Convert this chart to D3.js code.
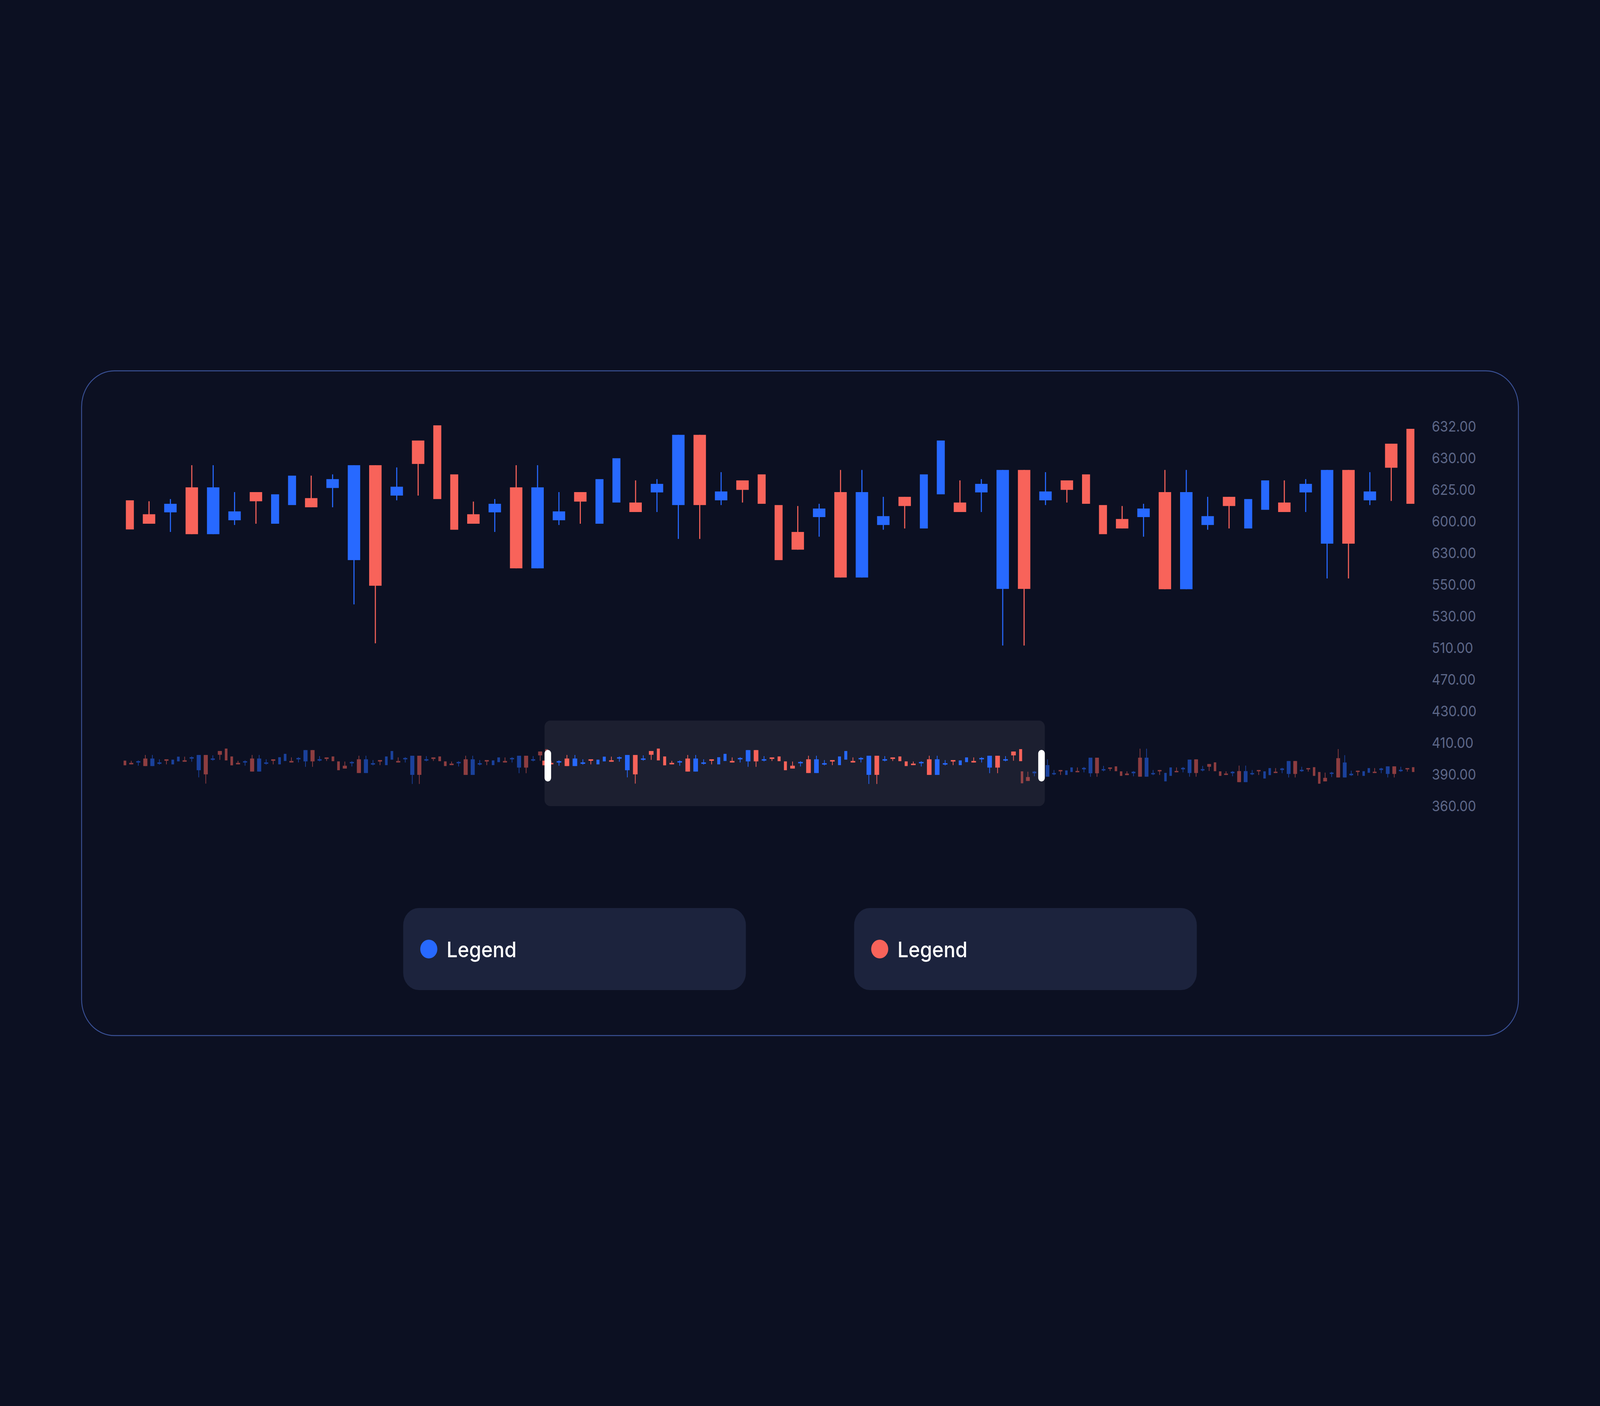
<!DOCTYPE html>
<html>
<head>
<meta charset="utf-8">
<script src="https://cdn.jsdelivr.net/npm/d3@7"></script>
<style>
html, body { margin: 0; padding: 0; background: #0C1022; overflow: hidden; width: 100%; height: 100%; }
svg { display: block; width: 100vw; height: 100vh; }
</style>
</head>
<body>
<svg id="chart" viewBox="0 0 4500 3600" preserveAspectRatio="none"></svg>
<script>
// ---------- DATA ----------
// y-axis labels, top to bottom (as printed on the chart)
const yTickLabels = ["632.00","630.00","625.00","600.00","630.00","550.00","530.00","510.00","470.00","430.00","410.00","390.00","360.00"];

// main candle series (values in axis-grid units, 0 = bottom label, 12 = top label)
const openVals  = [9.66,9.22,9.28,10.07,8.59,9.03,9.92,8.92,9.51,9.73,10.05,7.77,10.77,9.81,11.55,12.03,10.48,9.22,9.28,10.07,7.51,9.03,9.92,8.92,9.59,9.59,9.91,9.51,11.73,9.66,10.29,10.48,9.51,8.66,9.13,9.92,7.22,8.88,9.77,8.77,9.85,9.59,9.91,6.86,10.62,9.66,10.29,10.48,9.51,9.07,9.13,9.92,6.85,8.88,9.77,8.77,9.36,9.59,9.91,8.29,10.62,9.66,11.45,11.92];
const highVals  = [9.66,9.63,9.70,10.77,10.77,9.92,9.92,9.85,10.44,10.44,10.48,10.77,10.77,10.70,11.55,12.03,10.48,9.62,9.70,10.77,10.77,9.92,9.92,10.33,10.99,10.29,10.33,11.73,11.73,10.55,10.29,10.48,9.51,9.48,9.55,10.62,10.62,9.77,9.77,10.48,11.55,10.29,10.33,10.62,10.62,10.55,10.29,10.48,9.51,9.48,9.55,10.62,10.62,9.77,9.77,9.70,10.29,10.29,10.33,10.62,10.62,10.55,11.45,11.92];
const lowVals   = [8.74,8.92,8.66,8.59,8.59,8.88,8.92,8.92,9.51,9.44,9.44,6.37,5.14,9.66,9.81,9.70,8.73,8.92,8.66,7.51,7.51,8.88,8.92,8.92,9.59,9.29,9.29,8.44,8.44,9.51,9.59,9.55,7.77,8.10,8.51,7.22,7.22,8.73,8.77,8.77,9.85,9.29,9.29,5.07,5.07,9.51,9.59,9.55,8.59,8.77,8.51,6.85,6.85,8.73,8.77,8.77,9.36,9.29,9.29,7.19,7.19,9.51,9.64,9.55];
const closeVals = [8.74,8.92,9.55,8.59,10.07,9.31,9.63,9.85,10.44,9.44,10.33,10.77,6.96,10.09,10.81,9.70,8.73,8.92,9.55,7.51,10.07,9.31,9.62,10.33,10.99,9.29,10.18,11.73,9.51,9.94,9.99,9.55,7.77,8.10,9.40,7.22,9.92,9.16,9.48,10.48,11.55,9.29,10.18,10.62,6.86,9.94,9.99,9.55,8.59,8.77,9.40,6.85,9.92,9.16,9.48,9.70,10.29,9.29,10.18,10.62,8.29,9.94,10.69,9.55];

// navigator: right-hand (out of range) segment series, same grid units
const navRightOpen  = [7.55,6.43,7.17,8.78,6.50,6.96,7.81,6.84,7.42,7.63,7.94,7.17,10.24,7.73,8.32,8.53,7.55,7.12,7.17,10.24,6.50,6.96,7.81,5.58,6.66,7.63,7.94,7.22,9.91,7.73,8.99,9.32,7.55,7.12,7.17,7.60,5.43,6.96,7.81,6.14,6.81,7.48,7.81,7.04,9.58,7.58,8.19,8.37,7.42,6.27,7.04,10.14,6.35,6.78,7.68,6.66,7.27,7.48,7.81,7.04,8.53,7.58,8.19,8.37];
const navRightHigh  = [7.55,7.48,7.60,9.91,9.91,7.81,7.81,7.73,8.32,8.32,8.40,10.24,10.24,8.63,8.32,8.53,7.55,7.55,7.60,12.01,12.01,7.81,7.81,7.25,8.32,8.32,8.40,9.86,9.91,8.63,8.99,9.32,7.55,7.55,7.60,8.68,8.68,7.81,7.81,7.55,8.19,8.19,8.24,9.58,9.58,8.45,8.19,8.37,7.42,7.30,7.45,11.93,10.73,7.68,7.68,7.58,8.19,8.19,8.24,8.53,8.53,8.45,8.19,8.37];
const navRightLow   = [5.20,5.66,6.58,6.50,6.50,6.81,6.84,6.84,7.42,7.37,7.35,6.48,6.48,7.55,7.63,7.58,6.66,6.81,6.58,6.50,6.50,6.81,6.84,5.58,6.66,7.37,7.35,6.50,6.50,7.55,7.63,7.58,6.66,6.84,6.58,5.43,5.43,6.81,6.84,6.14,6.81,7.22,7.19,6.35,6.35,7.45,7.50,6.66,5.12,5.58,6.43,6.35,6.35,6.66,6.71,6.66,7.27,7.22,7.19,6.35,6.35,7.45,7.50,7.42];
const navRightClose = [5.20,5.66,7.50,6.50,8.78,7.22,7.55,7.73,8.32,7.37,8.24,10.24,7.17,7.99,8.04,7.58,6.66,6.81,7.48,6.50,10.24,7.22,7.55,7.25,8.32,7.37,8.24,9.86,7.22,7.99,8.45,7.58,6.66,6.84,7.48,5.43,7.60,7.22,7.55,7.55,8.19,7.22,8.12,9.58,7.04,7.86,7.94,6.66,5.12,5.58,7.30,6.35,9.29,7.09,7.42,7.58,8.19,7.22,8.12,8.53,7.04,7.86,7.94,7.42];

const legendLabels = ["Legend", "Legend"];
const legendKeys = ["up", "down"];

// ---------- STYLE ----------
const COLORS = { up: "#2769FF", down: "#F8635A" };
const BG = "#0C1022";
const FONT = "Inter, 'Noto Sans', 'DejaVu Sans', sans-serif";

const svg = d3.select("#chart");
svg.append("rect").attr("width", 4500).attr("height", 3600).attr("fill", BG);

// card
svg.append("rect")
  .attr("x", 229.5).attr("y", 949.5)
  .attr("width", 4041).attr("height", 1702)
  .attr("rx", 92).attr("ry", 92)
  .attr("fill", "none")
  .attr("stroke", "#3A5196").attr("stroke-width", 2.5);

function buildSeries(o, h, l, c) {
  return o.map((v, i) => {
    const top = Math.max(o[i], c[i]), bot = Math.min(o[i], c[i]);
    return {
      open: o[i], high: h[i], low: l[i], close: c[i],
      dir: c[i] >= o[i] ? "up" : "down",
      wick: (h[i] > top + 1e-6) || (l[i] < bot - 1e-6)
    };
  });
}

const mainSeries = buildSeries(openVals, highVals, lowVals, closeVals);
const rightSeries = buildSeries(navRightOpen, navRightHigh, navRightLow, navRightClose);

// horizontal layout in relative units: wide body (with wick), narrow body (no wick), gap
const UNIT = { wide: 35, narrow: 22.5, gap: 25.2 };
function layout(series) {
  let pos = 0;
  const slots = series.map((d, i) => {
    const w = d.wick ? UNIT.wide : UNIT.narrow;
    const s = { start: pos, end: pos + w };
    pos += w + (i < series.length - 1 ? UNIT.gap : 0);
    return s;
  });
  return { slots, total: pos };
}

function drawCandles(g, series, x0, x1, yScale, opt) {
  const lay = layout(series);
  const x = d3.scaleLinear().domain([0, lay.total]).range([x0, x1]);
  const data = series.map((d, i) => Object.assign({}, d, lay.slots[i]));
  const grp = g.append("g").attr("opacity", opt.opacity || 1);
  grp.selectAll("rect.wick").data(data.filter(d => d.wick)).join("rect")
    .attr("class", "wick")
    .attr("x", d => (x(d.start) + x(d.end)) / 2 - opt.wickW / 2)
    .attr("width", opt.wickW)
    .attr("y", d => yScale(d.high))
    .attr("height", d => yScale(d.low) - yScale(d.high))
    .attr("fill", d => COLORS[d.dir]);
  grp.selectAll("rect.body").data(data).join("rect")
    .attr("class", "body")
    .attr("x", d => x(d.start))
    .attr("width", d => x(d.end) - x(d.start))
    .attr("y", d => yScale(Math.max(d.open, d.close)))
    .attr("height", d => Math.max(1, yScale(Math.min(d.open, d.close)) - yScale(Math.max(d.open, d.close))))
    .attr("fill", d => COLORS[d.dir]);
}

// ---------- MAIN CHART ----------
const yMain = d3.scaleLinear().domain([0, 12]).range([2063.5, 1091.5]);
const mainG = svg.append("g");
drawCandles(mainG, mainSeries, 354, 3978, yMain, { wickW: 3 });

// y axis (labels only)
const yAxis = d3.axisRight(yMain)
  .tickValues(d3.range(0, 13))
  .tickFormat(v => yTickLabels[12 - v])
  .tickSize(0).tickPadding(0);
const axG = svg.append("g").attr("transform", "translate(4027,0)").call(yAxis);
axG.select(".domain").remove();
axG.selectAll("text")
  .attr("fill", "#5D6788")
  .attr("font-family", FONT)
  .attr("font-size", 37)
  .attr("dy", "0.34em");

// ---------- NAVIGATOR ----------
const yNav = d3.scaleLinear().domain([0, 12]).range([2073.3, 2073.3 - 13.02 * 12]);
const navG = svg.append("g");
const win = { x0: 1531.5, x1: 2938.5, y0: 1845, y1: 2064 };
navG.append("rect")
  .attr("x", win.x0).attr("y", win.y0)
  .attr("width", win.x1 - win.x0).attr("height", win.y1 - win.y0)
  .attr("rx", 16).attr("fill", "#1C1F30");

drawCandles(navG, mainSeries, 347.7, 1540.7, yNav, { wickW: 2, opacity: 0.55 });
drawCandles(navG, rightSeries, 2871, 3978, yNav, { wickW: 2, opacity: 0.55 });
drawCandles(navG, mainSeries, 1525.5, 2874.7, yNav, { wickW: 2 });

// handles
navG.selectAll("rect.handle").data([win.x0, win.x1 - 18.5]).join("rect")
  .attr("class", "handle")
  .attr("x", d => d).attr("y", 1920)
  .attr("width", 18.5).attr("height", 81)
  .attr("rx", 9.25).attr("fill", "#FFFFFF");

// ---------- LEGEND ----------
const legendX = d3.scaleBand().domain(d3.range(legendLabels.length)).range([1134, 3366]).paddingInner(0.24);
const lg = svg.append("g").selectAll("g").data(legendLabels).join("g")
  .attr("transform", (d, i) => `translate(${legendX(i)},2325)`);
lg.append("rect")
  .attr("width", legendX.bandwidth()).attr("height", 210)
  .attr("rx", 44).attr("fill", "#1C233D");
lg.append("circle")
  .attr("cx", 72).attr("cy", 105).attr("r", 24)
  .attr("fill", (d, i) => COLORS[legendKeys[i]]);
lg.append("text")
  .attr("x", 122).attr("y", 126.5)
  .attr("fill", "#FFFFFF")
  .attr("font-family", FONT)
  .attr("font-size", 55)
  .attr("font-weight", 500)
  .text(d => d);
</script>
</body>
</html>
